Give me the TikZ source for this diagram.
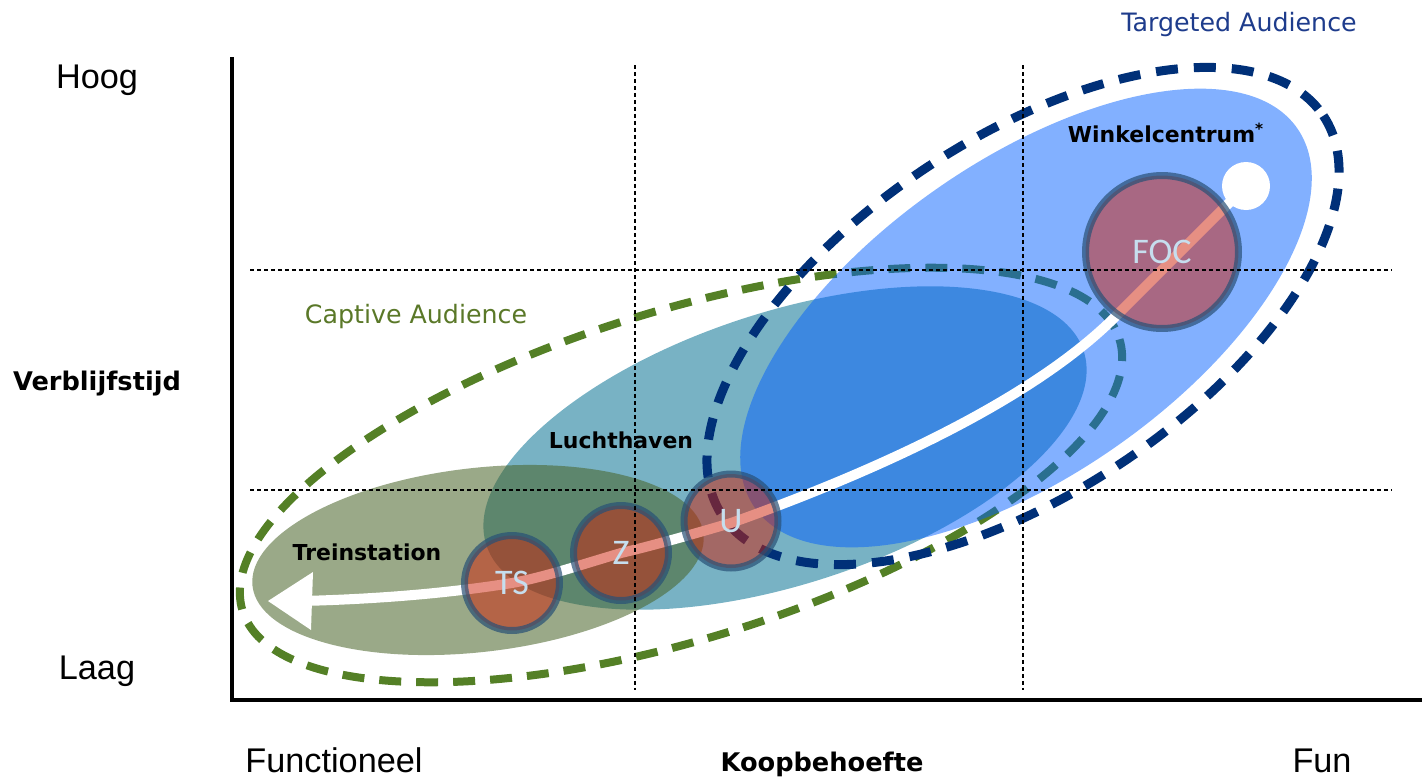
\documentclass[tikz,border=0pt]{standalone}
\usepackage{fontspec}
\setmainfont{DejaVu Sans}
\newfontfamily\axisfont{Liberation Sans}
\newfontfamily\markfont{Carlito}

\definecolor{navydash}{RGB}{0,48,120}
\definecolor{greendash}{RGB}{84,128,38}
\definecolor{tealfill}{RGB}{120,178,196}
\definecolor{bluefill}{RGB}{0,94,255}
\definecolor{olivefill}{RGB}{71,98,38}
\definecolor{dotfill}{RGB}{206,32,8}
\definecolor{dotring}{RGB}{40,80,118}
\definecolor{dottext}{RGB}{198,222,238}
\definecolor{targettext}{RGB}{30,60,140}
\definecolor{captivetext}{RGB}{90,120,40}

\begin{document}
\begin{tikzpicture}[x=0.02cm, y=-0.02cm,
  audience/.style={line width=0.16cm, dash pattern=on 0.44cm off 0.3cm},
  gridline/.style={black, line width=0.024cm, dash pattern=on 0.08cm off 0.06cm},
  axisline/.style={black, line width=0.08cm},
  chalk/.style={white, line width=0.2cm, line cap=round, line join=round},
  dot/.style={circle, inner sep=0pt, minimum size=#1, fill=dotfill, fill opacity=0.5,
    draw=dotring, draw opacity=0.7, line width=0.14cm, text=dottext, text opacity=1,
    font=\markfont\fontsize{20.5}{24}\selectfont},
  plain/.style={anchor=base, font=\axisfont\fontsize{19.5}{23}\selectfont},
  heading/.style={anchor=base, font=\bfseries\fontsize{14.6}{17}\selectfont},
  zone/.style={anchor=base, font=\bfseries\fontsize{12.5}{15}\selectfont},
  audiencelabel/.style={anchor=base, font=\fontsize{14.4}{17}\selectfont},
]
\useasboundingbox (0,0) rectangle (1426,778);

% outer dashed ring of the captive audience
\draw[audience, greendash, shift={(681,475)}, rotate=17.2] (0,0) ellipse [x radius=459, y radius=164];

% zones
\fill[tealfill, shift={(785,448)}, rotate=18] (0,0) ellipse [x radius=314, y radius=136];
\fill[bluefill, fill opacity=0.49, shift={(1026,318)}, rotate=35] (0,0) ellipse [x radius=331, y radius=157];
\fill[olivefill, fill opacity=0.55, shift={(478,560)}, rotate=6.6] (0,0) ellipse [x radius=227, y radius=92];

% outer dashed ring of the targeted audience
\draw[audience, navydash, line width=0.18cm, dash pattern=on 0.44cm off 0.32cm, shift={(1023,316)}, rotate=33.7] (0,0) ellipse [x radius=361, y radius=177];

% route coordinates
\coordinate (tsc) at (512,583);
\coordinate (zc) at (621,553);
\coordinate (uc) at (731,521);
\coordinate (focc) at (1162,252);
\coordinate (bend) at (1112,320);
\coordinate (tail) at (302,601);
\coordinate (tip) at (268,601);

% chalk arrow from the shopping centre down to the station
\node[circle, fill=white, inner sep=0pt, minimum size=0.96cm] (start) at (1246,186) {};
\draw[chalk] (start.center) -- (bend)
  .. controls (1030,400) and (880,470) .. (731,523)
  .. controls (690,535) and (655,545) .. (621,553)
  .. controls (580,565) and (545,577) .. (512,583)
  .. controls (450,593) and (380,599) .. (tail);
\fill[white] (tip) -- ++(45,-29) -- ++(-2,58) -- cycle;

% locations
\node[dot=1.9cm] (TS) at (tsc) {TS};
\node[dot=1.9cm] (Z) at (zc) {Z};
\node[dot=1.88cm] (U) at (uc) {U};
\node[dot=3.06cm] (FOC) at (focc) {FOC};

% grid
\draw[gridline] (635,65) -- (635,690);
\draw[gridline] (1023,65) -- (1023,690);
\draw[gridline] (250,270) -- (1392,270);
\draw[gridline] (250,490) -- (1392,490);

% axes
\draw[axisline] (232,57) -- (232,702);
\draw[axisline] (230,700) -- (1422,700);

% labels
\node[plain] (hoog) at (97,88) {Hoog};
\node[plain] (laag) at (97,679) {Laag};
\node[heading] (yname) at (97,390) {Verblijfstijd};
\node[plain] (functioneel) at (334,772) {Functioneel};
\node[plain] (fun) at (1322,772) {Fun};
\node[heading] (xname) at (822,771) {Koopbehoefte};
\node[audiencelabel, text=targettext] (targeted) at (1239,31) {Targeted Audience};
\node[audiencelabel, text=captivetext] (captive) at (416,323) {Captive Audience};
\node[zone] (lucht) at (621,448) {Luchthaven};
\node[zone] (trein) at (367,560) {Treinstation};
\node[zone] (winkel) at (1166,142) {Winkelcentrum\textsuperscript{*}};
\end{tikzpicture}
\end{document}
